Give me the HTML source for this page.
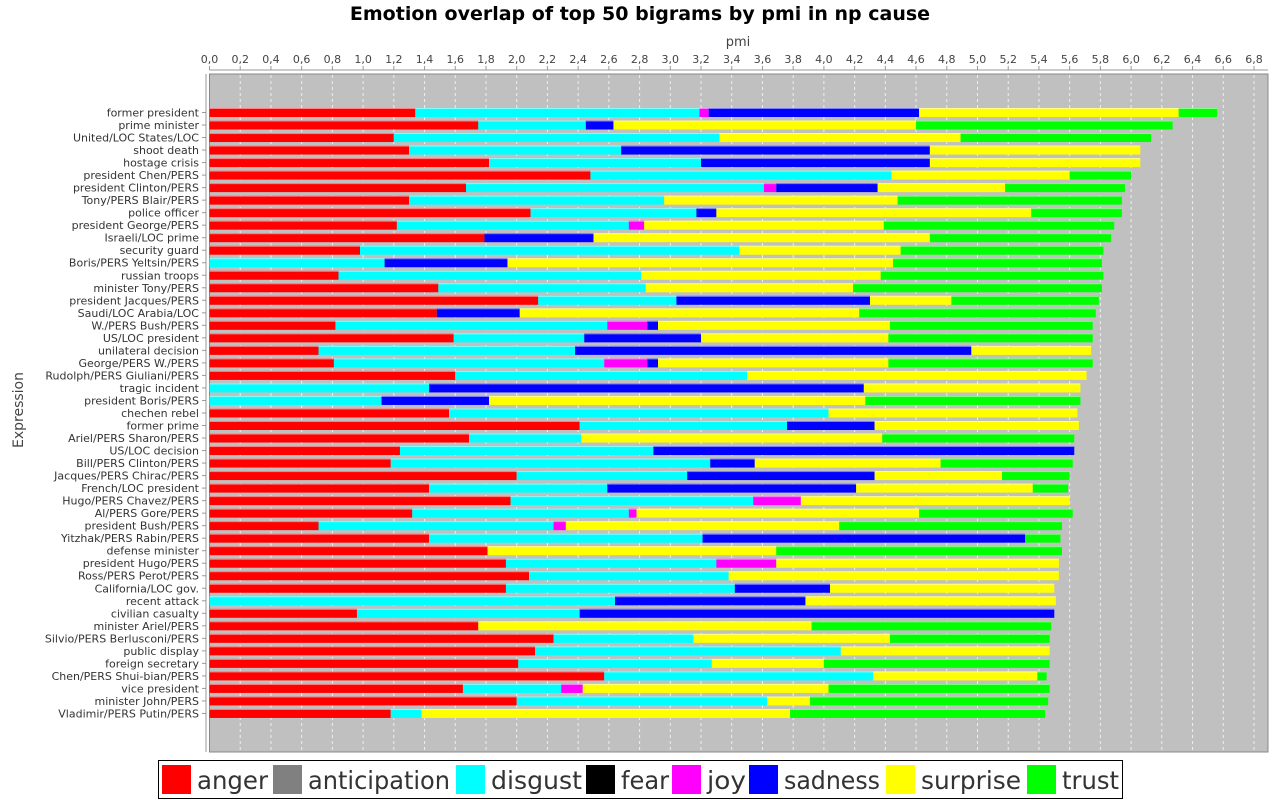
<!DOCTYPE html>
<html><head><meta charset="utf-8"><style>
html,body{margin:0;padding:0;background:#fff;width:1280px;height:800px;overflow:hidden}
svg{display:block;font-family:"DejaVu Sans","Liberation Sans",sans-serif}
</style></head><body>
<svg id="chart" width="1280" height="800">
<text x="640" y="20" text-anchor="middle" font-size="19" font-weight="bold" fill="#000">Emotion overlap of top 50 bigrams by pmi in np cause</text>
<text x="738" y="46" text-anchor="middle" font-size="13" fill="#444">pmi</text>
<text x="0" y="0" transform="translate(23,410) rotate(-90)" text-anchor="middle" font-size="14" fill="#444">Expression</text>
<rect x="209.5" y="74" width="1058.5" height="678" fill="#c0c0c0" stroke="#888"/>
<line x1="206" y1="74" x2="206" y2="752" stroke="#999"/>
<line x1="209.5" y1="70" x2="1268" y2="70" stroke="#999"/>
<g id="grid"></g><g id="xticks"></g><g id="bars"></g><g id="ylabels"></g><g id="legend"></g>
</svg>
<script>
const categories=["former president","prime minister","United/LOC States/LOC","shoot death","hostage crisis","president Chen/PERS","president Clinton/PERS","Tony/PERS Blair/PERS","police officer","president George/PERS","Israeli/LOC prime","security guard","Boris/PERS Yeltsin/PERS","russian troops","minister Tony/PERS","president Jacques/PERS","Saudi/LOC Arabia/LOC","W./PERS Bush/PERS","US/LOC president","unilateral decision","George/PERS W./PERS","Rudolph/PERS Giuliani/PERS","tragic incident","president Boris/PERS","chechen rebel","former prime","Ariel/PERS Sharon/PERS","US/LOC decision","Bill/PERS Clinton/PERS","Jacques/PERS Chirac/PERS","French/LOC president","Hugo/PERS Chavez/PERS","Al/PERS Gore/PERS","president Bush/PERS","Yitzhak/PERS Rabin/PERS","defense minister","president Hugo/PERS","Ross/PERS Perot/PERS","California/LOC gov.","recent attack","civilian casualty","minister Ariel/PERS","Silvio/PERS Berlusconi/PERS","public display","foreign secretary","Chen/PERS Shui-bian/PERS","vice president","minister John/PERS","Vladimir/PERS Putin/PERS"];
const anger=[1.34,1.75,1.20,1.30,1.82,2.48,1.67,1.30,2.09,1.22,1.79,0.98,0,0.84,1.49,2.14,1.48,0.82,1.59,0.71,0.81,1.60,0,0,1.56,2.41,1.69,1.24,1.18,2.00,1.43,1.96,1.32,0.71,1.43,1.81,1.93,2.08,1.93,0,0.96,1.75,2.24,2.12,2.01,2.57,1.65,2.00,1.18];
const anticipation=new Array(49).fill(0);
const disgust=[1.85,0.70,2.12,1.38,1.38,1.96,1.94,1.66,1.08,1.51,0,2.47,1.14,1.97,1.35,0.90,0,1.77,0.85,1.67,1.76,1.90,1.43,1.12,2.47,1.35,0.73,1.65,2.08,1.11,1.16,1.58,1.41,1.53,1.78,0,1.37,1.30,1.49,2.64,1.45,0,0.91,1.99,1.26,1.75,0.64,1.63,0.20];
const fear=new Array(49).fill(0);
const joy=[0.06,0,0,0,0,0,0.08,0,0,0.10,0,0,0,0,0,0,0,0.26,0,0,0.28,0,0,0,0,0,0,0,0,0,0,0.31,0.05,0.08,0,0,0.39,0,0,0,0,0,0,0,0,0,0.14,0,0];
const sadness=[1.37,0.18,0,2.01,1.49,0,0.66,0,0.13,0,0.71,0,0.80,0,0,1.26,0.54,0.07,0.76,2.58,0.07,0,2.83,0.70,0,0.57,0,2.74,0.29,1.22,1.62,0,0,0,2.10,0,0,0,0.62,1.24,3.09,0,0,0,0,0,0,0,0];
const surprise=[1.69,1.97,1.57,1.37,1.37,1.16,0.83,1.52,2.05,1.56,2.19,1.05,2.51,1.56,1.35,0.53,2.21,1.51,1.22,0.78,1.50,2.21,1.41,2.45,1.62,1.33,1.96,0,1.21,0.83,1.15,1.75,1.84,1.78,0,1.88,1.84,2.15,1.46,1.63,0,2.17,1.28,1.36,0.73,1.07,1.60,0.28,2.40];
const trust=[0.25,1.67,1.24,0,0,0.40,0.78,1.46,0.59,1.50,1.18,1.32,1.36,1.45,1.62,0.96,1.54,1.32,1.33,0,1.33,0,0,1.40,0,0,1.25,0,0.86,0.44,0.23,0,1.00,1.45,0.23,1.86,0,0,0,0,0,1.56,1.04,0,1.47,0.06,1.44,1.55,1.66];
const seriesNames=["anger","anticipation","disgust","fear","joy","sadness","surprise","trust"];
const tickValues=[0,0.2,0.4,0.6,0.8,1.0,1.2,1.4,1.6,1.8,2.0,2.2,2.4,2.6,2.8,3.0,3.2,3.4,3.6,3.8,4.0,4.2,4.4,4.6,4.8,5.0,5.2,5.4,5.6,5.8,6.0,6.2,6.4,6.6,6.8];

const series=[anger,anticipation,disgust,fear,joy,sadness,surprise,trust];
const colors=["#ff0000","#808080","#00ffff","#000000","#ff00ff","#0000ff","#ffff00","#00ff00"];
const NS="http://www.w3.org/2000/svg";
const X0=209.5,SCALE=153.6,Y0=112.5,STEP=12.52,BH=9;
const xs=v=>X0+v*SCALE;
const ys=i=>Y0+i*STEP;
function mk(tag,attrs,parent){const e=document.createElementNS(NS,tag);for(const k in attrs)e.setAttribute(k,attrs[k]);parent.appendChild(e);return e;}
const grid=document.getElementById('grid'),xt=document.getElementById('xticks'),bars=document.getElementById('bars'),yl=document.getElementById('ylabels'),lg=document.getElementById('legend');
tickValues.forEach(t=>{
  const x=xs(t);
  if(t>0){const g=mk('line',{x1:x,y1:75,x2:x,y2:751,stroke:'#eee','stroke-dasharray':'3,3','stroke-width':1},grid);
  
  }
  const tk=mk('line',{x1:x,y1:66,x2:x,y2:70,stroke:'#999'},xt);
  
  
  const tx=mk('text',{x:x,y:63,'text-anchor':'middle','font-size':11,fill:'#444'},xt);
  tx.textContent=t.toFixed(1).replace('.',',');
  
  
});
categories.forEach((c,i)=>{
  const y=ys(i);
  const t=mk('text',{x:199,y:y+4,'text-anchor':'end','font-size':11,fill:'#333'},yl);
  t.textContent=c;
  
  
  const tk=mk('line',{x1:202,y1:y,x2:206,y2:y,stroke:'#999'},yl);
  
  
  let acc=0;
  series.forEach((s,k)=>{
    const v=s[i];
    if(v>0){
      const r=mk('rect',{x:xs(acc),y:y-BH/2,width:v*SCALE,height:BH,fill:colors[k]},bars);
      
      
      const hl=mk('rect',{x:xs(acc),y:y-BH/2,width:v*SCALE,height:1,fill:'#fff','fill-opacity':0.5},bars);
      
      
    }
    acc+=v;
  });
});
const box=mk('rect',{x:158.5,y:760.5,width:964,height:38,fill:'#fff',stroke:'#000'},lg);


const lx=[162,273,456,586,672,749,886,1027];
const lw=[71,142,91,48,39,96,100,57];
seriesNames.forEach((n,k)=>{
  const sq=mk('rect',{x:lx[k],y:765,width:29,height:29,fill:colors[k]},lg);
  
  
  const t=mk('text',{x:lx[k]+35,y:789,'font-size':25,fill:'#333',textLength:lw[k],lengthAdjust:'spacingAndGlyphs'},lg);
  t.textContent=n;
  
  
});
</script>
</body></html>
